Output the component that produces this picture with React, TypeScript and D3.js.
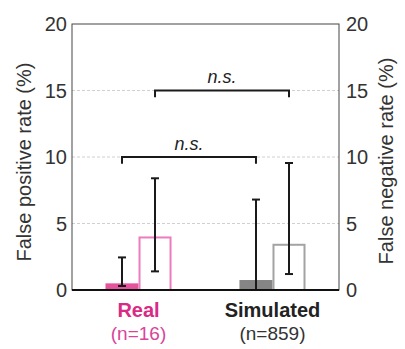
import React from "react";
import * as d3 from "d3";

// group labels
const categories = ["Real", "Simulated"];
const sampleSizes = ["(n=16)", "(n=859)"];
const series = ["fp", "fn"];

// false positive rate (%) - filled bars
const fpMean = [0.5, 0.75];
const fpLow = [0.3, 0];
const fpHigh = [2.45, 6.8];

// false negative rate (%) - open bars
const fnMean = [3.95, 3.4];
const fnLow = [1.4, 1.2];
const fnHigh = [8.4, 9.55];

const yTicks = [0, 5, 10, 15, 20];
const gridTicks = [5, 10, 15];

// significance brackets
const brackets: { s: string; level: number; label: string }[] = [
  { s: "fp", level: 10, label: "n.s." },
  { s: "fn", level: 15, label: "n.s." },
];

const width = 405;
const height = 349;
const margin = { top: 24, right: 66, bottom: 59, left: 72 };

const fillColors: Record<string, string[]> = {
  Real: ["#e4549d", "#ec7cbd"],
  Simulated: ["#858585", "#a3a3a3"],
};
const labelColors = ["#d92a85", "#222"];
const countColors = ["#d9449a", "#333"];

const font = "Arial, 'Liberation Sans', Helvetica, sans-serif";

export default function App() {
  const x = d3
    .scaleBand<string>()
    .domain(categories)
    .range([margin.left, width - margin.right])
    .paddingInner(0.507)
    .paddingOuter(0.25);

  const xs = d3.scaleBand<string>().domain(series).range([0, x.bandwidth()]).padding(0);

  const y = d3
    .scaleLinear()
    .domain([0, 20])
    .range([height - margin.bottom, margin.top]);

  const cx = (c: string, s: string) => x(c)! + xs(s)! + xs.bandwidth() / 2;
  const x0 = margin.left;
  const x1 = width - margin.right;

  const rows = categories.map((c, i) => ({
    c,
    i,
    vals: [
      { s: "fp", mean: fpMean[i], lo: fpLow[i], hi: fpHigh[i] },
      { s: "fn", mean: fnMean[i], lo: fnLow[i], hi: fnHigh[i] },
    ],
  }));

  const capW = 4;

  return (
    <svg
      width={width}
      height={height}
      style={{ position: "absolute", left: 0, top: 0, background: "#fff" }}
      fontFamily={font}
    >
      {/* grid */}
      {gridTicks.map((t) => (
        <line
          key={t}
          x1={x0}
          x2={x1}
          y1={y(t)}
          y2={y(t)}
          stroke="#d0d0d0"
          strokeDasharray="3,2"
          strokeWidth={1}
        />
      ))}

      {/* bars */}
      {rows.map((r) =>
        r.vals.map((v, k) => {
          const bx = x(r.c)! + xs(v.s)!;
          const col = fillColors[r.c][k];
          return k === 0 ? (
            <rect
              key={r.c + v.s}
              x={bx}
              y={y(v.mean)}
              width={xs.bandwidth()}
              height={y(0) - y(v.mean)}
              fill={col}
            />
          ) : (
            <rect
              key={r.c + v.s}
              x={bx + 1}
              y={y(v.mean)}
              width={xs.bandwidth() - 2}
              height={y(0) - y(v.mean)}
              fill="none"
              stroke={col}
              strokeWidth={2}
            />
          );
        })
      )}

      {/* error bars */}
      {rows.map((r) =>
        r.vals.map((v) => {
          const ex = cx(r.c, v.s);
          return (
            <g key={"e" + r.c + v.s} stroke="#1a1a1a" strokeWidth={2}>
              <line x1={ex} x2={ex} y1={y(v.lo)} y2={y(v.hi)} />
              <line x1={ex - capW} x2={ex + capW} y1={y(v.hi)} y2={y(v.hi)} />
              <line x1={ex - capW} x2={ex + capW} y1={y(v.lo)} y2={y(v.lo)} />
            </g>
          );
        })
      )}

      {/* frame */}
      <rect
        x={x0}
        y={margin.top}
        width={x1 - x0}
        height={y(0) - margin.top}
        fill="none"
        stroke="#444"
        strokeWidth={1}
      />
      <line x1={x0} x2={x1} y1={y(0)} y2={y(0)} stroke="#111" strokeWidth={2} />

      {/* brackets */}
      {brackets.map((b) => {
        const a = cx(categories[0], b.s);
        const e = cx(categories[1], b.s);
        return (
          <g key={"b" + b.s}>
            <path
              d={`M${a},${y(b.level - 0.5)}V${y(b.level)}H${e}V${y(b.level - 0.5)}`}
              fill="none"
              stroke="#1a1a1a"
              strokeWidth={2}
            />
            <text
              x={(a + e) / 2}
              y={y(b.level + 0.55)}
              textAnchor="middle"
              fontSize={18}
              fontStyle="italic"
              fill="#222"
            >
              {b.label}
            </text>
          </g>
        );
      })}

      {/* left ticks */}
      {yTicks.map((t) => (
        <text
          key={"l" + t}
          x={x0 - 5}
          y={y(t)}
          dy="0.35em"
          textAnchor="end"
          fontSize={20}
          fill="#333"
        >
          {t}
        </text>
      ))}
      {/* right ticks */}
      {yTicks.map((t) => (
        <text
          key={"r" + t}
          x={x1 + 7}
          y={y(t)}
          dy="0.35em"
          textAnchor="start"
          fontSize={20}
          fill="#333"
        >
          {t}
        </text>
      ))}

      {/* axis titles */}
      <text
        transform={`translate(31,${(margin.top + y(0)) / 2 + 5}) rotate(-90)`}
        textAnchor="middle"
        fontSize={20}
        fill="#333"
      >
        False positive rate (%)
      </text>
      <text
        transform={`translate(393,${(margin.top + y(0)) / 2 + 4}) rotate(-90)`}
        textAnchor="middle"
        fontSize={20}
        fill="#333"
      >
        False negative rate (%)
      </text>

      {/* category labels */}
      {categories.map((c, i) => (
        <g key={"c" + c}>
          <text
            x={x(c)! + x.bandwidth() / 2}
            y={317}
            textAnchor="middle"
            fontSize={20}
            fontWeight="bold"
            fill={labelColors[i]}
          >
            {c}
          </text>
          <text
            x={x(c)! + x.bandwidth() / 2}
            y={340}
            textAnchor="middle"
            fontSize={19}
            fill={countColors[i]}
          >
            {sampleSizes[i]}
          </text>
        </g>
      ))}
    </svg>
  );
}
